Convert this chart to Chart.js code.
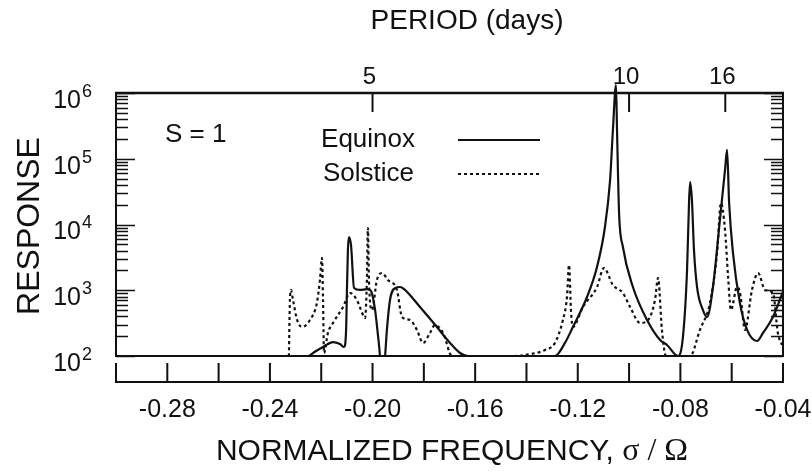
<!DOCTYPE html>
<html><head><meta charset="utf-8">
<script src="https://cdn.jsdelivr.net/npm/chart.js@4.4.0/dist/chart.umd.min.js"></script>
<style>html,body{margin:0;padding:0;background:#fff;}#wrap{width:812px;height:476px;}</style>
</head><body><div id="wrap"><canvas id="c" width="812" height="476"></canvas></div>
<script>
// Normalized frequency sigma/Omega and response
const equinoxFreq = [-0.2248,-0.2220,-0.2193,-0.2154,-0.2127,-0.2111,-0.2103,-0.2100,-0.2096,-0.2092,-0.2084,-0.2072,-0.2049,-0.2022,-0.2006,-0.1990,-0.1979,-0.1971,-0.1963,-0.1951,-0.1944,-0.1932,-0.1912,-0.1893,-0.1877,-0.1815,-0.1749,-0.1698,-0.1659,-0.1628,-0.1289,-0.1250,-0.1219,-0.1164,-0.1125,-0.1094,-0.1074,-0.1063,-0.1051,-0.1047,-0.1039,-0.1024,-0.0985,-0.0930,-0.0879,-0.0852,-0.0809,-0.0790,-0.0774,-0.0766,-0.0762,-0.0755,-0.0747,-0.0735,-0.0712,-0.0696,-0.0673,-0.0646,-0.0626,-0.0618,-0.0610,-0.0595,-0.0568,-0.0540,-0.0501,-0.0478,-0.0439,-0.0400];
const equinoxResp = [100,119,137,163,152,137,249,908,4100,6450,4880,1080,1010,1040,974,500,209,100,30,100,249,710,1080,1120,1040,556,276,158,111,100,100,158,276,790,2260,9160,47500,274000,1320000,274000,15000,4550,1120,353,175,147,100,195,2030,23600,44300,23600,4100,1120,500,392,1120,11700,67500,136000,21200,3690,640,249,169,224,392,950];
const solsticeFreq = [-0.2326,-0.2322,-0.2318,-0.2310,-0.2294,-0.2275,-0.2244,-0.2217,-0.2205,-0.2197,-0.2193,-0.2189,-0.2174,-0.2154,-0.2115,-0.2088,-0.2061,-0.2037,-0.2029,-0.2022,-0.2018,-0.2014,-0.2002,-0.1983,-0.1963,-0.1940,-0.1905,-0.1885,-0.1854,-0.1827,-0.1803,-0.1776,-0.1757,-0.1725,-0.1690,-0.1445,-0.1386,-0.1328,-0.1289,-0.1258,-0.1242,-0.1234,-0.1226,-0.1219,-0.1180,-0.1125,-0.1098,-0.1063,-0.1024,-0.0996,-0.0957,-0.0926,-0.0899,-0.0887,-0.0872,-0.0856,-0.0762,-0.0724,-0.0685,-0.0657,-0.0642,-0.0626,-0.0614,-0.0603,-0.0579,-0.0568,-0.0548,-0.0521,-0.0497,-0.0470,-0.0439,-0.0420,-0.0404];
const solsticeResp = [100,710,1010,710,353,276,353,640,1430,3100,710,111,224,318,556,908,710,420,378,1430,8850,1430,500,1430,1830,1430,1010,392,353,249,158,224,296,224,100,100,107,123,158,353,790,2420,450,276,556,1120,2180,1200,908,556,318,353,710,1540,249,100,100,249,640,3690,21200,8250,1590,500,1120,940,249,1010,1830,1010,908,224,147];

const xTickValues = [-0.28,-0.24,-0.20,-0.16,-0.12,-0.08,-0.04];
const xTickLabels = ['-0.28','-0.24','-0.20','-0.16','-0.12','-0.08','-0.04'];
const periodTicks = [5,10,16];
const periodLabels = ['5','10','16'];
const yExponents = [2,3,4,5,6];

const X_MIN = -0.30, X_MAX = -0.04, X_STEP = 0.02;
const FONT = '"Liberation Sans", Arial, Helvetica, sans-serif';
const SERIF = '"Liberation Serif", "Times New Roman", serif';

const toPts = (xs, ys) => xs.map((x, i) => ({x: x, y: ys[i]}));

const decor = {
  id: 'decor',
  afterDatasetsDraw(chart) {
    const ctx = chart.ctx, xs = chart.scales.x, ys = chart.scales.y;
    const L = xs.getPixelForValue(X_MIN), R = xs.getPixelForValue(X_MAX);
    const T = ys.getPixelForValue(1e6), B = ys.getPixelForValue(100);
    ctx.save();
    ctx.strokeStyle = '#111'; ctx.fillStyle = '#111';
    // frame
    ctx.lineWidth = 2;
    ctx.beginPath();
    ctx.moveTo(L, T); ctx.lineTo(L, B); ctx.lineTo(R, B); ctx.lineTo(R, T);
    ctx.stroke();
    ctx.lineWidth = 2.5;
    ctx.beginPath(); ctx.moveTo(L - 1, T); ctx.lineTo(R + 1, T); ctx.stroke();
    // y ticks, left and right
    ctx.lineWidth = 1.6;
    for (let k = 2; k <= 6; k++) {
      for (let m = 1; m <= 9; m++) {
        if (k === 6 && m > 1) break;
        const v = m * Math.pow(10, k);
        const py = Math.round(ys.getPixelForValue(v)) + 0.5;
        const len = m === 1 ? 19 : 12;
        ctx.beginPath();
        ctx.moveTo(L, py); ctx.lineTo(L + len, py);
        ctx.moveTo(R, py); ctx.lineTo(R - len, py);
        ctx.stroke();
      }
    }
    // top period ticks
    ctx.lineWidth = 2;
    ctx.font = '24px ' + FONT;
    ctx.textAlign = 'center'; ctx.textBaseline = 'middle';
    periodTicks.forEach((p, i) => {
      const px = xs.getPixelForValue(-1 / p);
      ctx.beginPath(); ctx.moveTo(px, T); ctx.lineTo(px, T + 19); ctx.stroke();
      ctx.fillText(periodLabels[i], px - 3, T - 16);
    });
    // bottom tick strip
    const sTop = B + 7, sBot = B + 26;
    ctx.lineWidth = 2;
    ctx.beginPath(); ctx.moveTo(L - 1, sBot); ctx.lineTo(R + 1, sBot); ctx.stroke();
    const n = Math.round((X_MAX - X_MIN) / X_STEP);
    ctx.beginPath();
    for (let i = 0; i <= n; i++) {
      const px = xs.getPixelForValue(X_MIN + i * X_STEP);
      ctx.moveTo(px, sTop); ctx.lineTo(px, sBot);
    }
    ctx.stroke();
    // x tick labels
    ctx.font = '25px ' + FONT;
    xTickValues.forEach((v, i) => {
      ctx.fillText(xTickLabels[i], xs.getPixelForValue(v), sBot + 28);
    });
    // y tick labels 10^k
    yExponents.forEach(k => {
      const py = ys.getPixelForValue(Math.pow(10, k));
      ctx.font = '25px ' + FONT;
      ctx.textAlign = 'right';
      ctx.fillText('10', L - 35, py + 8);
      ctx.font = '18px ' + FONT;
      ctx.textAlign = 'left';
      ctx.fillText(String(k), L - 34, py - 1);
    });
    // titles
    ctx.textAlign = 'center';
    ctx.font = '28px ' + FONT;
    ctx.fillText('PERIOD (days)', 467, 21);
    // bottom title: sans text + serif symbols
    const part1 = 'NORMALIZED FREQUENCY, ';
    const part2 = '\u03C3 / \u03A9';
    ctx.font = '30px ' + FONT;
    const w1 = ctx.measureText(part1).width;
    ctx.font = '32px ' + SERIF;
    const w2 = ctx.measureText(part2).width;
    const x0 = 452 - (w1 + w2) / 2;
    ctx.textAlign = 'left';
    ctx.font = '30px ' + FONT;
    ctx.fillText(part1, x0, 452);
    ctx.font = '32px ' + SERIF;
    ctx.fillText(part2, x0 + w1, 452);
    ctx.textAlign = 'center';
    ctx.font = '32px ' + FONT;
    ctx.save();
    ctx.translate(30, 226); ctx.rotate(-Math.PI / 2);
    ctx.fillText('RESPONSE', 0, 0);
    ctx.restore();
    // annotation and legend
    ctx.font = '26px ' + FONT;
    ctx.textAlign = 'left';
    ctx.fillText('S = 1', 165, 135);
    ctx.textAlign = 'right';
    ctx.fillText('Equinox', 415, 140);
    ctx.fillText('Solstice', 414, 174);
    ctx.lineWidth = 2;
    ctx.beginPath(); ctx.moveTo(458, 140); ctx.lineTo(540, 140); ctx.stroke();
    ctx.setLineDash([3, 3]);
    ctx.beginPath(); ctx.moveTo(458, 174); ctx.lineTo(540, 174); ctx.stroke();
    ctx.restore();
  }
};

new Chart(document.getElementById('c'), {
  type: 'line',
  data: {
    datasets: [
      { label: 'Solstice', data: toPts(solsticeFreq, solsticeResp), borderColor: '#111', borderWidth: 2.2,
        borderDash: [3, 3], pointRadius: 0, fill: false, cubicInterpolationMode: 'monotone',
        clip: {left: 0, top: 12, right: 0, bottom: 0} },
      { label: 'Equinox', data: toPts(equinoxFreq, equinoxResp), borderColor: '#111', borderWidth: 2.2,
        pointRadius: 0, fill: false, cubicInterpolationMode: 'monotone',
        clip: {left: 0, top: 12, right: 0, bottom: 0} }
    ]
  },
  options: {
    responsive: false, animation: false,
    layout: { padding: { left: 116, right: 29, top: 93, bottom: 120 } },
    scales: {
      x: { type: 'linear', min: X_MIN, max: X_MAX, display: false },
      y: { type: 'logarithmic', min: 100, max: 1e6, display: false }
    },
    plugins: { legend: { display: false }, tooltip: { enabled: false } }
  },
  plugins: [decor]
});
</script>
</body></html>
